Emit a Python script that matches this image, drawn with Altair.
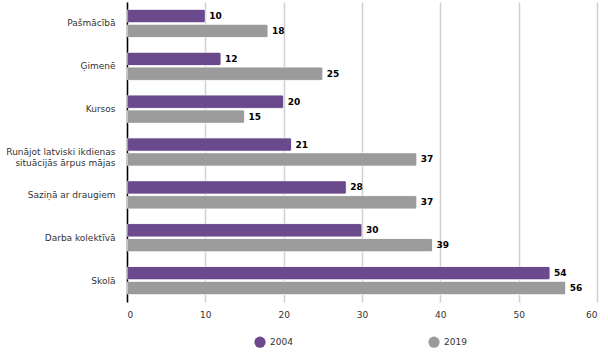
import altair as alt
import pandas as pd

categories = ["Pašmācībā", "Ģimenē", "Kursos",
              "Runājot latviski ikdienas situācijās ārpus mājas",
              "Saziņā ar draugiem", "Darba kolektīvā", "Skolā"]
values_2004 = [10, 12, 20, 21, 28, 30, 54]
values_2019 = [18, 25, 15, 37, 37, 39, 56]
years = ["2004", "2019"]
colors = ["#6a4a8c", "#9b9b9b"]

rows = []
for c, a, b in zip(categories, values_2004, values_2019):
    rows.append({"cat": c, "year": years[0], "value": a})
    rows.append({"cat": c, "year": years[1], "value": b})
df = pd.DataFrame(rows)

font = "DejaVu Sans"

base = alt.Chart(df).encode(
    y=alt.Y("cat:N", sort=categories, title=None,
            scale=alt.Scale(paddingInner=0.34, paddingOuter=0.17),
            axis=alt.Axis(domainColor="#000000", domainWidth=1.5, ticks=False,
                          labelPadding=12, labelFont=font, labelFontSize=9,
                          labelColor="#333333", labelLimit=200,
                          labelExpr="datum.label == 'Runājot latviski ikdienas situācijās ārpus mājas' ? ['Runājot latviski ikdienas', 'situācijās ārpus mājas'] : datum.label")),
    yOffset=alt.YOffset("year:N", sort=years, scale=alt.Scale(paddingInner=0.1)),
)

bars = base.mark_bar(cornerRadius=2, stroke="white", strokeWidth=0.5).encode(
    x=alt.X("value:Q", title=None, scale=alt.Scale(domain=[0, 60], nice=False),
            axis=alt.Axis(values=[0, 10, 20, 30, 40, 50, 60], grid=True,
                          gridColor="#d0d0d0", gridWidth=1.5, domain=False,
                          ticks=False, labelFont=font, labelFontSize=9,
                          labelColor="#333333", labelPadding=8)),
    color=alt.Color("year:N", sort=years,
                    scale=alt.Scale(domain=years, range=colors),
                    legend=alt.Legend(title=None, orient="none", legendX=127,
                                      legendY=334, direction="horizontal",
                                      columns=2, columnPadding=135,
                                      symbolType="circle", symbolSize=125,
                                      symbolStrokeWidth=0, labelFont=font,
                                      labelFontSize=9, labelColor="#333333")),
)

labels = base.mark_text(align="left", dx=4, font=font, fontSize=9,
                        fontWeight="bold", color="#000000").encode(
    x="value:Q", text="value:Q")

chart = (bars + labels).properties(
    width=470, height=300,
    autosize="none",
    padding={"left": 127, "top": 2, "right": 11, "bottom": 51},
).configure_view(stroke=None)

chart.save("out.html", embed_options={"renderer": "svg", "actions": False})
